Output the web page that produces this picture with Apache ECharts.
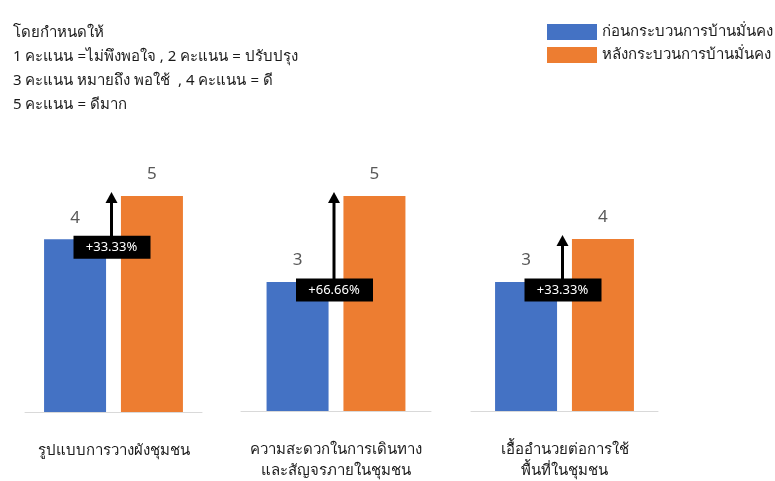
<html>
<head>
<meta charset="utf-8" />
<title>บ้านมั่นคง</title>
<script src="https://cdn.jsdelivr.net/npm/echarts@6/dist/echarts.min.js"></script>
<style type="text/css">
body { margin: 0; background: #fff; }
#main { width: 775px; height: 481px; }
</style>
</head>
<body>
<div id="main"></div>
<script type="text/javascript">
var myChart = echarts.init(document.getElementById("main"));

// ข้อมูล
var categories = ["รูปแบบการวางผังชุมชน", "ความสะดวกในการเดินทาง\nและสัญจรภายในชุมชน", "เอื้ออำนวยต่อการใช้\nพื้นที่ในชุมชน"];
var seriesNames = ["ก่อนกระบวนการบ้านมั่นคง", "หลังกระบวนการบ้านมั่นคง"];
var beforeValues = [4, 3, 3];
var afterValues = [5, 5, 4];
var changeLabels = ["+33.33%", "+66.66%", "+33.33%"];
var noteLines = ["โดยกำหนดให้", "1 คะแนน =ไม่พึงพอใจ , 2 คะแนน = ปรับปรุง", "3 คะแนน หมายถึง พอใช้  , 4 คะแนน = ดี", "5 คะแนน = ดีมาก"];

var colors = ["#4472C4", "#ED7D31"];
var font = "Noto Sans, sans-serif";
// ตำแหน่งของแต่ละกลุ่ม (left, width)
var gridPos = [[25, 177], [241, 190], [471, 187]];

var grids = [], xAxes = [], yAxes = [], series = [];
for (var i = 0; i < categories.length; i++) {
	grids.push({ left: gridPos[i][0], width: gridPos[i][1], top: 196, bottom: 69 });
	xAxes.push({
		type: "category",
		gridIndex: i,
		data: [categories[i]],
		axisLine: { lineStyle: { color: "#d9d9d9", width: 1 } },
		axisTick: { show: false },
		axisLabel: { color: "#1a1a1a", fontSize: 15, fontFamily: font, margin: 28, lineHeight: 21 },
	});
	yAxes.push({ type: "value", gridIndex: i, min: 0, max: 5, show: false, splitLine: { show: false } });

	var barLabel = { show: true, position: "top", distance: 13, fontSize: 17, color: "#595959", fontFamily: font };
	series.push({
		name: seriesNames[0], type: "bar", xAxisIndex: i, yAxisIndex: i,
		barWidth: 62, barGap: "24%", itemStyle: { color: colors[0] },
		label: barLabel, data: [beforeValues[i]],
	});
	series.push({
		name: seriesNames[1], type: "bar", xAxisIndex: i, yAxisIndex: i,
		barWidth: 62, barGap: "24%", itemStyle: { color: colors[1] },
		label: barLabel, data: [afterValues[i]],
	});
	// ลูกศรและกล่องเปอร์เซ็นต์
	series.push({
		type: "custom", xAxisIndex: i, yAxisIndex: i, z: 10,
		data: [[0, beforeValues[i], afterValues[i]]],
		renderItem: function (params, api) {
			var pb = api.coord([api.value(0), api.value(1)]);
			var pa = api.coord([api.value(0), api.value(2)]);
			var x = pb[0] - 2;
			var boxY = pb[1] + 8;
			var tipY = pa[1] - 4;
			var text = changeLabels[Math.floor(params.seriesIndex / 3)];
			return {
				type: "group",
				children: [
					{ type: "line", shape: { x1: x, y1: boxY - 11, x2: x, y2: tipY + 8 }, style: { stroke: "#000", lineWidth: 3 } },
					{ type: "polygon", shape: { points: [[x, tipY], [x - 6, tipY + 11], [x + 6, tipY + 11]] }, style: { fill: "#000" } },
					{ type: "rect", shape: { x: x - 38, y: boxY - 11.5, width: 77, height: 23 }, style: { fill: "#000" } },
					{ type: "text", style: { x: x, y: boxY, text: text, fill: "#fff", fontSize: 13, fontFamily: font, align: "center", verticalAlign: "middle" } },
				],
			};
		},
	});
}

option = {
	backgroundColor: "#fff",
	animation: false,
	title: {
		text: noteLines.join("\n"),
		left: 8,
		top: 16,
		textStyle: { fontSize: 15, fontWeight: "normal", color: "#1a1a1a", fontFamily: font, lineHeight: 24 },
	},
	legend: {
		orient: "vertical",
		left: 542,
		top: 19,
		itemWidth: 50,
		itemHeight: 16,
		itemGap: 7,
		icon: "rect",
		data: seriesNames,
		textStyle: { fontSize: 15, color: "#1a1a1a", fontFamily: font },
	},
	grid: grids,
	xAxis: xAxes,
	yAxis: yAxes,
	series: series,
};

myChart.setOption(option);
</script>
</body>
</html>
